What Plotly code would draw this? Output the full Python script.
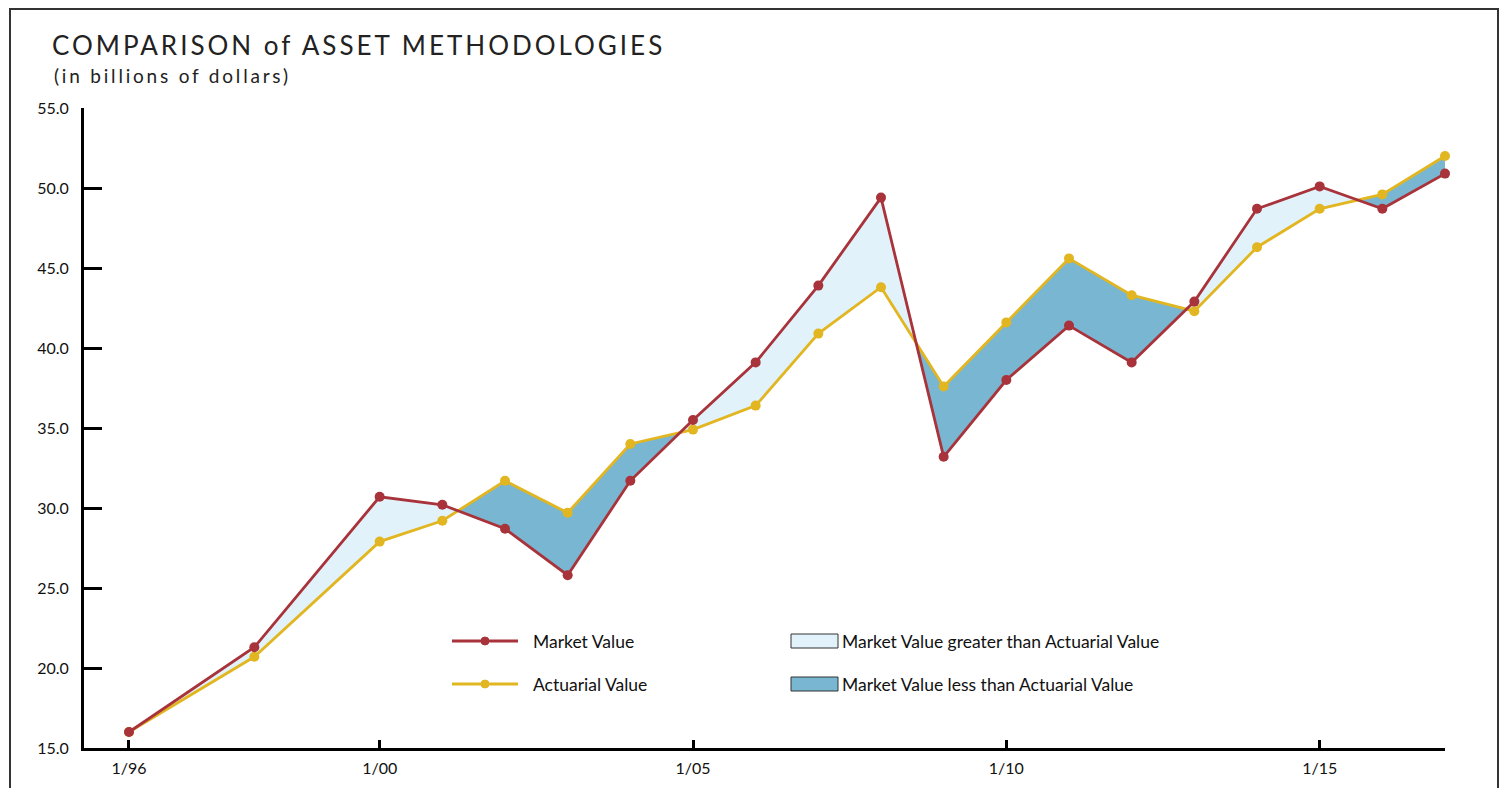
import plotly.graph_objects as go

# ---- data ----
years = [1996, 1998, 2000, 2001, 2002, 2003, 2004, 2005, 2006, 2007, 2008,
         2009, 2010, 2011, 2012, 2013, 2014, 2015, 2016, 2017]
market_value = [16.0, 21.3, 30.7, 30.2, 28.7, 25.8, 31.7, 35.5, 39.1, 43.9, 49.4,
                33.2, 38.0, 41.4, 39.1, 42.9, 48.7, 50.1, 48.7, 50.9]
actuarial_value = [16.0, 20.7, 27.9, 29.2, 31.7, 29.7, 34.0, 34.9, 36.4, 40.9, 43.8,
                   37.6, 41.6, 45.6, 43.3, 42.3, 46.3, 48.7, 49.6, 52.0]
x_tick_years = [1996, 2000, 2005, 2010, 2015]
x_tick_labels = ["1/96", "1/00", "1/05", "1/10", "1/15"]
y_ticks = [15, 20, 25, 30, 35, 40, 45, 50, 55]

RED = "#A8333A"
YEL = "#E2B620"
LIGHT = "#E1F2FB"
DARK = "#79B6D1"

OFF = 8                      # page body margin
W, H = 1492, 780             # figure size (fits the window with body margin)
L, R, T, B = 84, 1445, 108, 748   # plot area in screen pixels


def px(x):
    return (x - L) / (R - L)


def py(y):
    return (B - y) / (B - T)


# ---- build fill regions between the two series ----
xs, ms, as_ = [years[0]], [market_value[0]], [actuarial_value[0]]
for i in range(len(years) - 1):
    d0 = market_value[i] - actuarial_value[i]
    d1 = market_value[i + 1] - actuarial_value[i + 1]
    if d0 * d1 < 0:
        t = d0 / (d0 - d1)
        xc = years[i] + t * (years[i + 1] - years[i])
        yc = market_value[i] + t * (market_value[i + 1] - market_value[i])
        xs.append(xc); ms.append(yc); as_.append(yc)
    xs.append(years[i + 1]); ms.append(market_value[i + 1]); as_.append(actuarial_value[i + 1])

regions = {"pos": ([], []), "neg": ([], [])}
n = len(xs)
i = 0
while i < n - 1:
    j = i
    sign = 0
    while j < n - 1:
        d = (ms[j] - as_[j]) + (ms[j + 1] - as_[j + 1])
        s = 1 if d > 0 else -1
        if sign == 0:
            sign = s
        elif s != sign:
            break
        j += 1
        if abs(ms[j] - as_[j]) < 1e-9:
            break
    key = "pos" if sign > 0 else "neg"
    fx, fy = regions[key]
    seg_x = xs[i:j + 1] + xs[i:j + 1][::-1] + [xs[i]]
    seg_y = ms[i:j + 1] + as_[i:j + 1][::-1] + [ms[i]]
    if fx:
        fx.append(None); fy.append(None)
    fx.extend(seg_x); fy.extend(seg_y)
    i = j

fig = go.Figure()
for key, col in (("pos", LIGHT), ("neg", DARK)):
    fx, fy = regions[key]
    fig.add_trace(go.Scatter(x=fx, y=fy, mode="lines", fill="toself", fillcolor=col,
                             line=dict(width=0, color=col), hoverinfo="skip",
                             showlegend=False))

fig.add_trace(go.Scatter(x=years, y=actuarial_value, mode="lines+markers",
                         line=dict(color=YEL, width=2.8),
                         marker=dict(color=YEL, size=10), showlegend=False,
                         cliponaxis=False, name="Actuarial Value"))
fig.add_trace(go.Scatter(x=years, y=market_value, mode="lines+markers",
                         line=dict(color=RED, width=2.8),
                         marker=dict(color=RED, size=10), showlegend=False,
                         cliponaxis=False, name="Market Value"))

FONT = "Lato"
shapes = []
annotations = []

# outer frame
shapes.append(dict(type="rect", xref="paper", yref="paper",
                   x0=px(10), x1=px(1498), y0=py(830), y1=py(9),
                   line=dict(color="#333333", width=2), fillcolor="rgba(0,0,0,0)",
                   layer="below"))

# title
annotations.append(dict(text='<span style="letter-spacing:3px">COMPARISON of ASSET METHODOLOGIES</span>',
                        xref="paper", yref="paper",
                        x=px(50), y=py(45), xanchor="left", yanchor="middle", showarrow=False,
                        font=dict(family=FONT, size=26, color="#222222")))
annotations.append(dict(text='<span style="letter-spacing:2.8px">(in billions of dollars)</span>',
                        xref="paper", yref="paper",
                        x=px(52), y=py(76), xanchor="left", yanchor="middle", showarrow=False,
                        font=dict(family=FONT, size=19, color="#222222")))

# legend
leg = [(641, RED, "Market Value"), (684, YEL, "Actuarial Value")]
for yy, col, txt in leg:
    shapes.append(dict(type="line", xref="paper", yref="paper", x0=px(452), x1=px(518),
                       y0=py(yy), y1=py(yy), line=dict(color=col, width=2.8)))
    shapes.append(dict(type="circle", xref="paper", yref="paper", x0=px(481), x1=px(489),
                       y0=py(yy + 4), y1=py(yy - 4), line=dict(color=col, width=1),
                       fillcolor=col))
    annotations.append(dict(text=txt, xref="paper", yref="paper", x=px(531), y=py(yy),
                            xanchor="left", yanchor="middle", showarrow=False,
                            font=dict(family=FONT, size=17.5, color="#111111")))
box = [(641, LIGHT, "Market Value greater than Actuarial Value"),
       (684, DARK, "Market Value less than Actuarial Value")]
for yy, col, txt in box:
    shapes.append(dict(type="rect", xref="paper", yref="paper", x0=px(791), x1=px(838),
                       y0=py(yy + 7), y1=py(yy - 7), line=dict(color="#333333", width=1),
                       fillcolor=col))
    annotations.append(dict(text=txt, xref="paper", yref="paper", x=px(840), y=py(yy),
                            xanchor="left", yanchor="middle", showarrow=False,
                            font=dict(family=FONT, size=17.5, color="#111111")))

fig.update_layout(
    width=W, height=H,
    margin=dict(l=L - OFF, r=W - (R - OFF), t=T - OFF, b=H - (B - OFF), pad=0),
    paper_bgcolor="white", plot_bgcolor="white",
    shapes=shapes, annotations=annotations,
    showlegend=False,
    xaxis=dict(range=[1995.282, 2017], showgrid=False, zeroline=False,
               showline=True, linecolor="black", linewidth=3,
               tickvals=x_tick_years, ticktext=x_tick_labels,
               ticks="inside", ticklen=8, tickwidth=3, tickcolor="black",
               tickfont=dict(family=FONT, size=16, color="#111111"),
               ticklabelstandoff=4),
    yaxis=dict(range=[15, 55], showgrid=False, zeroline=False,
               showline=True, linecolor="black", linewidth=3,
               tickvals=y_ticks, ticktext=["%.1f" % v for v in y_ticks],
               ticks="inside", ticklen=18, tickwidth=3, tickcolor="black",
               tickfont=dict(family=FONT, size=16, color="#111111"),
               ticklabelstandoff=9),
)

fig.write_html("out.html")
